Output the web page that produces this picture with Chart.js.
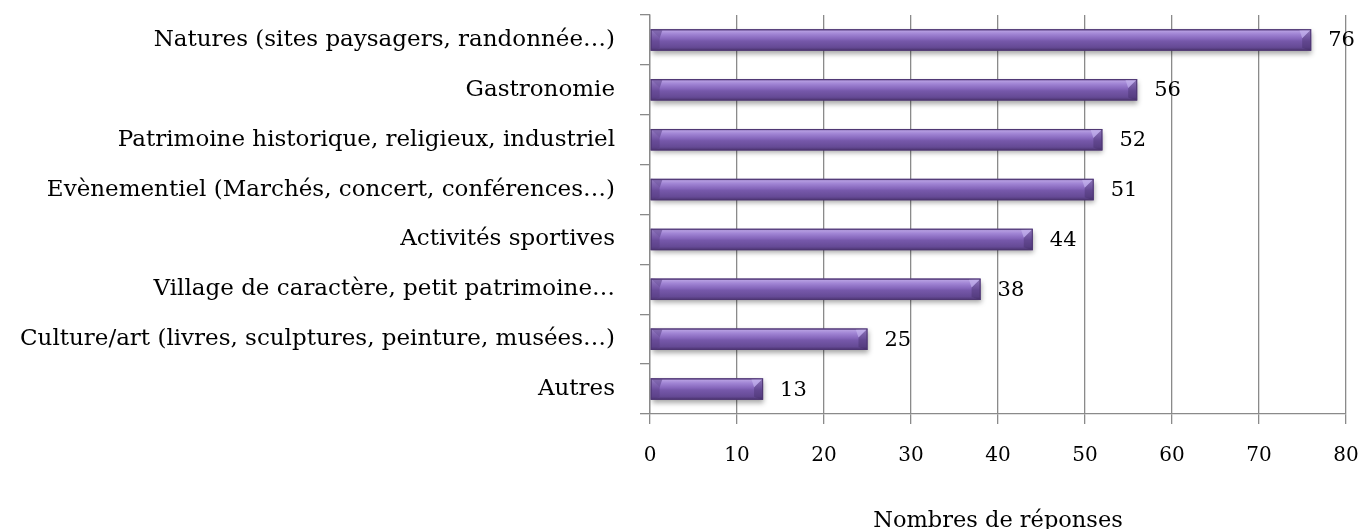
<!DOCTYPE html>
<html>
<head>
<meta charset="utf-8">
<script src="https://cdn.jsdelivr.net/npm/chart.js@4"></script>
<style>
html,body{margin:0;padding:0;background:#fff;overflow:hidden;}
#wrap{width:1364px;height:540px;position:relative;}
</style>
</head>
<body>
<div id="wrap"><canvas id="c" width="1364" height="540"></canvas></div>
<script>
const categories = [
  "Natures (sites paysagers, randonnée…)",
  "Gastronomie",
  "Patrimoine historique, religieux, industriel",
  "Evènementiel (Marchés, concert, conférences…)",
  "Activités sportives",
  "Village de caractère, petit patrimoine…",
  "Culture/art (livres, sculptures, peinture, musées…)",
  "Autres"
];
const responses = [76, 56, 52, 51, 44, 38, 25, 13];
const xTicks = [0, 10, 20, 30, 40, 50, 60, 70, 80];
const axisTitle = "Nombres de réponses";

const FONT = "'DejaVu Serif', serif";
const GRID = '#8a8a8a';

function barFill(ctx) {
  const chart = ctx.chart;
  const ys = chart.scales.y;
  if (!ys) return '#7b5fae';
  const meta = chart.getDatasetMeta(ctx.datasetIndex);
  const el = meta.data[ctx.dataIndex];
  const cy = ys.getPixelForValue(ctx.dataIndex);
  const h = el && el.height ? el.height : 21;
  const top = cy - h / 2, bot = cy + h / 2;
  if (!isFinite(top) || !isFinite(bot)) return '#7b5fae';
  const g = chart.ctx.createLinearGradient(0, top, 0, bot);
  g.addColorStop(0.00, '#65498f');
  g.addColorStop(0.08, '#b49ce0');
  g.addColorStop(0.22, '#a084d4');
  g.addColorStop(0.45, '#8566bb');
  g.addColorStop(0.55, '#7658aa');
  g.addColorStop(0.85, '#654a95');
  g.addColorStop(1.00, '#4b3470');
  return g;
}

const shadowPlugin = {
  id: 'shadowPlugin',
  beforeDatasetsDraw(chart) {
    const c = chart.ctx;
    c.save();
    c.shadowColor = 'rgba(0,0,0,0.35)';
    c.shadowBlur = 5;
    c.shadowOffsetX = 1;
    c.shadowOffsetY = 3;
  },
  afterDatasetsDraw(chart) {
    const c = chart.ctx;
    c.restore();
    const meta = chart.getDatasetMeta(0);
    meta.data.forEach((el, i) => {
      const top = el.y - el.height / 2, bot = el.y + el.height / 2;
      const x0 = el.base, x1 = el.x;
      const b = Math.min(9, (x1 - x0) / 3);
      c.save();
      c.beginPath();
      c.moveTo(x0, top);
      c.lineTo(x0 + b, top + b);
      c.lineTo(x0 + b, bot - 3);
      c.lineTo(x0, bot);
      c.closePath();
      c.fillStyle = 'rgba(80,55,120,0.35)';
      c.fill();
      c.beginPath();
      c.moveTo(x0, top);
      c.lineTo(x0 + b * 1.3, top + 1);
      c.lineTo(x0 + b, top + b);
      c.closePath();
      c.fillStyle = 'rgba(95,70,140,0.6)';
      c.fill();
      c.beginPath();
      c.moveTo(x1, top);
      c.lineTo(x1 - b, top + b);
      c.lineTo(x1 - b, bot - 3);
      c.lineTo(x1, bot);
      c.closePath();
      c.fillStyle = 'rgba(60,40,95,0.35)';
      c.fill();
      c.beginPath();
      c.moveTo(x1, top);
      c.lineTo(x1 - b * 1.3, top + 1);
      c.lineTo(x1 - b, top + b);
      c.closePath();
      c.fillStyle = 'rgba(200,185,240,0.6)';
      c.fill();
      c.strokeStyle = '#4e3672';
      c.lineWidth = 1;
      c.strokeRect(x0 + 0.5, top + 0.5, x1 - x0 - 1, bot - top - 1);
      c.fillStyle = '#000';
      c.font = '21px ' + FONT;
      c.textAlign = 'left';
      c.textBaseline = 'middle';
      c.fillText(String(responses[i]), x1 + 17, el.y + 1);
      c.restore();
    });
  }
};

new Chart(document.getElementById('c'), {
  type: 'bar',
  data: {
    labels: categories,
    datasets: [{
      data: responses,
      backgroundColor: barFill,
      borderWidth: 0,
      categoryPercentage: 1.0,
      barPercentage: 0.43
    }]
  },
  plugins: [shadowPlugin],
  options: {
    indexAxis: 'y',
    responsive: false,
    animation: false,
    devicePixelRatio: 1,
    layout: { padding: { top: 15, right: 18, left: 0, bottom: 0 } },
    plugins: { legend: { display: false }, tooltip: { enabled: false } },
    scales: {
      x: {
        min: 0, max: 80,
        afterBuildTicks(scale) { scale.ticks = xTicks.map(v => ({ value: v })); },
        afterFit(scale) { scale.paddingLeft = 0; scale.paddingRight = 0; },
        grid: { color: GRID, lineWidth: 1.3, drawTicks: true, tickLength: 10, tickColor: GRID },
        border: { color: GRID, width: 1.3 },
        ticks: { color: '#000', font: { family: FONT, size: 20 }, padding: 20, maxRotation: 0 },
        title: { display: true, text: axisTitle, color: '#000', font: { family: FONT, size: 22.5 }, padding: { top: 20, bottom: 5 } }
      },
      y: {
        afterFit(scale) { scale.width = 650; scale.paddingTop = 0; scale.paddingBottom = 0; },
        grid: { offset: true, drawOnChartArea: false, drawTicks: true, tickLength: 10, color: GRID, lineWidth: 1.3 },
        border: { color: GRID, width: 1.3 },
        ticks: { color: '#000', font: { family: FONT, size: 23 }, padding: 25, autoSkip: false }
      }
    }
  }
});
</script>
</body>
</html>
